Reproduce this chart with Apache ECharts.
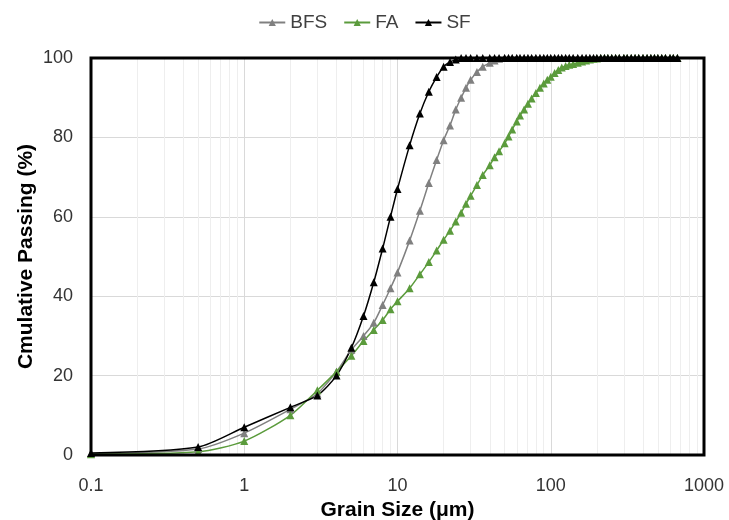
<!DOCTYPE html>
<html>
<head>
<meta charset="utf-8">
<script src="https://cdn.jsdelivr.net/npm/echarts@6/dist/echarts.min.js"></script>
<style>html,body{margin:0;padding:0;background:#fff}#c{width:729px;height:520px}</style>
</head>
<body>
<div id="c"></div>
<script>
var sizes = [0.1, 0.5, 1, 2, 3, 4, 5, 6, 7, 8, 9, 10, 12, 14, 16, 18, 20, 22, 24, 26, 28, 30, 33, 36, 40, 43, 46, 50, 53, 56, 60, 63, 67, 71, 75, 80, 85, 90, 95, 100, 106, 112, 118, 125, 132, 140, 150, 160, 170, 180, 190, 200, 212, 224, 236, 250, 265, 280, 300, 315, 335, 355, 375, 400, 425, 450, 475, 500, 530, 560, 600, 630, 670];
var bfs = [0.3, 1.5, 5.5, 11.5, 15.5, 21, 26.5, 30, 33.3, 37.8, 42, 46, 54, 61.5, 68.5, 74.3, 79.3, 83, 87, 90, 92.5, 94.5, 96.5, 97.8, 98.8, 99.4, 99.8, 100, 100, 100, 100, 100, 100, 100, 100, 100, 100, 100, 100, 100, 100, 100, 100, 100, 100, 100, 100, 100, 100, 100, 100, 100, 100, 100, 100, 100, 100, 100, 100, 100, 100, 100, 100, 100, 100, 100, 100, 100, 100, 100, 100, 100, 100];
var fa = [0.2, 0.8, 3.5, 10, 16.3, 21, 25, 28.7, 31.5, 34, 36.7, 38.7, 42, 45.5, 48.6, 51.5, 54.2, 56.5, 58.8, 61, 63.3, 65.3, 68, 70.5, 73, 75, 76.5, 78.5, 80.2, 82, 84, 85.5, 87, 88.5, 89.8, 91.2, 92.5, 93.6, 94.5, 95.3, 96.2, 97, 97.6, 98, 98.3, 98.5, 98.8, 99.1, 99.4, 99.6, 99.8, 99.9, 100, 100, 100, 100, 100, 100, 100, 100, 100, 100, 100, 100, 100, 100, 100, 100, 100, 100, 100, 100, 100];
var sf = [0.5, 2, 7, 12, 15, 20, 27, 35, 43.5, 52, 60, 67, 78, 86, 91.5, 95.2, 97.8, 99, 99.6, 100, 100, 100, 100, 100, 100, 100, 100, 100, 100, 100, 100, 100, 100, 100, 100, 100, 100, 100, 100, 100, 100, 100, 100, 100, 100, 100, 100, 100, 100, 100, 100, 100, 100, 100, 100, 100, 100, 100, 100, 100, 100, 100, 100, 100, 100, 100, 100, 100, 100, 100, 100, 100, 100];
var minorLines = [0.2, 0.3, 0.4, 0.5, 0.6, 0.7, 0.8, 0.9, 2, 3, 4, 5, 6, 7, 8, 9, 20, 30, 40, 50, 60, 70, 80, 90, 200, 300, 400, 500, 600, 700, 800, 900];
var yTicks = [0, 20, 40, 60, 80, 100];

function pairs(ys) { return sizes.map(function (x, i) { return [x, ys[i]]; }); }
var font = 'Liberation Sans, Arial, sans-serif';
var chart = echarts.init(document.getElementById('c'), null, {renderer: 'canvas'});
function mk(name, color, ys, extra) {
  var s = {
    name: name, type: 'line', data: pairs(ys), smooth: 0.25,
    symbol: 'triangle', symbolSize: 8, showSymbol: true,
    itemStyle: {color: color}, lineStyle: {color: color, width: 1.5},
    emphasis: {disabled: true}, animation: false, z: 3
  };
  if (extra) for (var k in extra) s[k] = extra[k];
  return s;
}
chart.setOption({
  animation: false,
  legend: {
    top: 8, left: 'center', itemWidth: 26, itemHeight: 9, itemGap: 16,
    textStyle: {fontFamily: font, fontSize: 19, color: '#404040'},
    data: ['BFS', 'FA', 'SF']
  },
  grid: {left: 91, right: 25, top: 58, bottom: 65, show: true, borderColor: '#000', borderWidth: 3, z: 10,
    containLabel: false, outerBoundsMode: 'none'},
  xAxis: {
    type: 'log', logBase: 10, min: 0.1, max: 1000,
    name: 'Grain Size (μm)', nameLocation: 'middle', nameGap: 43,
    nameTextStyle: {fontFamily: font, fontSize: 21, fontWeight: 'bold', color: '#000'},
    axisLine: {show: false}, axisTick: {show: false},
    axisLabel: {fontFamily: font, fontSize: 18, color: '#333333', margin: 22,
      formatter: function (v) { return String(+v.toPrecision(6)); }},
    splitLine: {show: true, lineStyle: {color: '#d9d9d9', width: 1}}
  },
  yAxis: {
    type: 'value', min: 0, max: 100, interval: 20,
    name: 'Cmulative Passing (%)', nameLocation: 'middle', nameGap: 54, nameMoveOverlap: false,
    nameTextStyle: {fontFamily: font, fontSize: 21, fontWeight: 'bold', color: '#000'},
    axisLine: {show: false}, axisTick: {show: false},
    axisLabel: {fontFamily: font, fontSize: 18, color: '#333333', margin: 18},
    splitLine: {show: true, lineStyle: {color: '#d9d9d9', width: 1}}
  },
  series: [
    mk('BFS', '#808080', bfs, {
      markLine: {
        silent: true, symbol: 'none', animation: false, z: 1,
        label: {show: false},
        lineStyle: {color: '#eeeeee', width: 1, type: 'solid'},
        data: minorLines.map(function (v) { return {xAxis: v}; })
      }
    }),
    mk('FA', '#5b9b3c', fa),
    mk('SF', '#000000', sf)
  ]
});
</script>
</body>
</html>
